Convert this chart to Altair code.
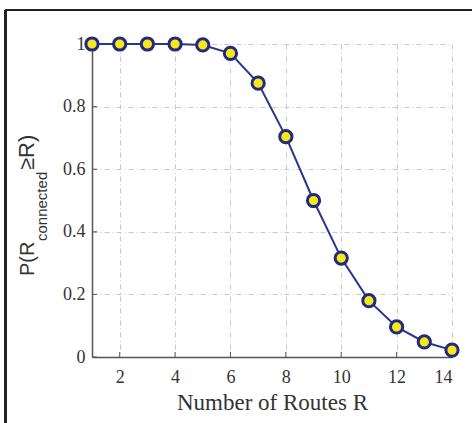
import altair as alt
import pandas as pd

routes = [1, 2, 3, 4, 5, 6, 7, 8, 9, 10, 11, 12, 13, 14]
prob = [1.0, 1.0, 1.0, 1.0, 0.997, 0.97, 0.875, 0.704, 0.5, 0.316, 0.18, 0.096, 0.048, 0.022]
x_ticks = [2, 4, 6, 8, 10, 12, 14]
y_ticks = [0, 0.2, 0.4, 0.6, 0.8, 1.0]

df = pd.DataFrame({"R": routes, "P": prob})
xt = pd.DataFrame({"x": x_ticks})
yt = pd.DataFrame({"y": y_ticks})

W, H = 360, 313
xs = alt.Scale(domain=[1, 14], nice=False, zero=False)
ys = alt.Scale(domain=[0, 1], nice=False, zero=False)

x_axis = alt.Axis(values=x_ticks, title="Number of Routes R", format="d",
                  labelFont="Liberation Serif", labelFontSize=18, labelColor="#333333",
                  labelPadding=11, tickSize=0, titleFont="Liberation Serif",
                  titleFontSize=23, titleFontWeight="normal", titleColor="#333333",
                  titlePadding=5, domainColor="#555555", domainWidth=1.5,
                  gridColor="#c8c8c8", gridDash=[5, 3, 1, 3], gridWidth=1)
y_axis = alt.Axis(values=y_ticks, title=None,
                  labelExpr="datum.value == 0 ? '0' : datum.value == 1 ? '1' : format(datum.value, '.1f')",
                  labelFont="Liberation Serif", labelFontSize=18, labelColor="#333333",
                  labelPadding=7, tickSize=0, domainColor="#555555", domainWidth=1.5,
                  gridColor="#c8c8c8", gridDash=[5, 3, 1, 3], gridWidth=1)

base = alt.Chart(df)

line = base.mark_line(color="#2a3590", strokeWidth=2).encode(
    x=alt.X("R:Q", scale=xs, axis=x_axis),
    y=alt.Y("P:Q", scale=ys, axis=y_axis),
)
points = base.mark_point(shape="circle", filled=True, size=150, fill="#f7e81c",
                         stroke="#222a80", strokeWidth=3, opacity=1).encode(
    x=alt.X("R:Q", scale=xs),
    y=alt.Y("P:Q", scale=ys),
)

xtick_marks = alt.Chart(xt).mark_rule(color="#555555", strokeWidth=1).encode(
    x=alt.X("x:Q", scale=xs),
    y=alt.value(H),
    y2=alt.value(H - 5),
)
ytick_marks = alt.Chart(yt).mark_rule(color="#555555", strokeWidth=1).encode(
    y=alt.Y("y:Q", scale=ys),
    x=alt.value(0),
    x2=alt.value(5),
)

# y-axis title with subscript, built from rotated text pieces
t1 = alt.Chart(pd.DataFrame({"t": ["P(R"]})).mark_text(
    angle=270, align="left", baseline="alphabetic", font="Liberation Sans",
    fontSize=20, color="#333333").encode(text="t:N", x=alt.value(-58), y=alt.value(232))
t2 = alt.Chart(pd.DataFrame({"t": ["connected"]})).mark_text(
    angle=270, align="left", baseline="alphabetic", font="Liberation Sans",
    fontSize=15, color="#333333").encode(text="t:N", x=alt.value(-45), y=alt.value(197))
t3 = alt.Chart(pd.DataFrame({"t": ["≥R)"]})).mark_text(
    angle=270, align="left", baseline="alphabetic", font="Liberation Sans",
    fontSize=22, color="#333333").encode(text="t:N", x=alt.value(-58), y=alt.value(126))

# outer frame (left and top edges)
frame_left = alt.Chart(df).mark_rule(color="#222222", strokeWidth=1.5).encode(
    x=alt.value(-86.5), y=alt.value(-34), y2=alt.value(400))
frame_top = alt.Chart(df).mark_rule(color="#222222", strokeWidth=1.5).encode(
    x=alt.value(-86.5), x2=alt.value(400), y=alt.value(-34))

chart = alt.layer(line, xtick_marks, ytick_marks, points, t1, t2, t3,
                  frame_left, frame_top).properties(
    width=W, height=H,
    autosize=alt.AutoSizeParams(type="none"),
    padding={"left": 92, "top": 44, "right": 20, "bottom": 66},
    background="white",
).configure_view(stroke=None)

chart.save("out.html", embed_options={"renderer": "svg", "actions": False})
